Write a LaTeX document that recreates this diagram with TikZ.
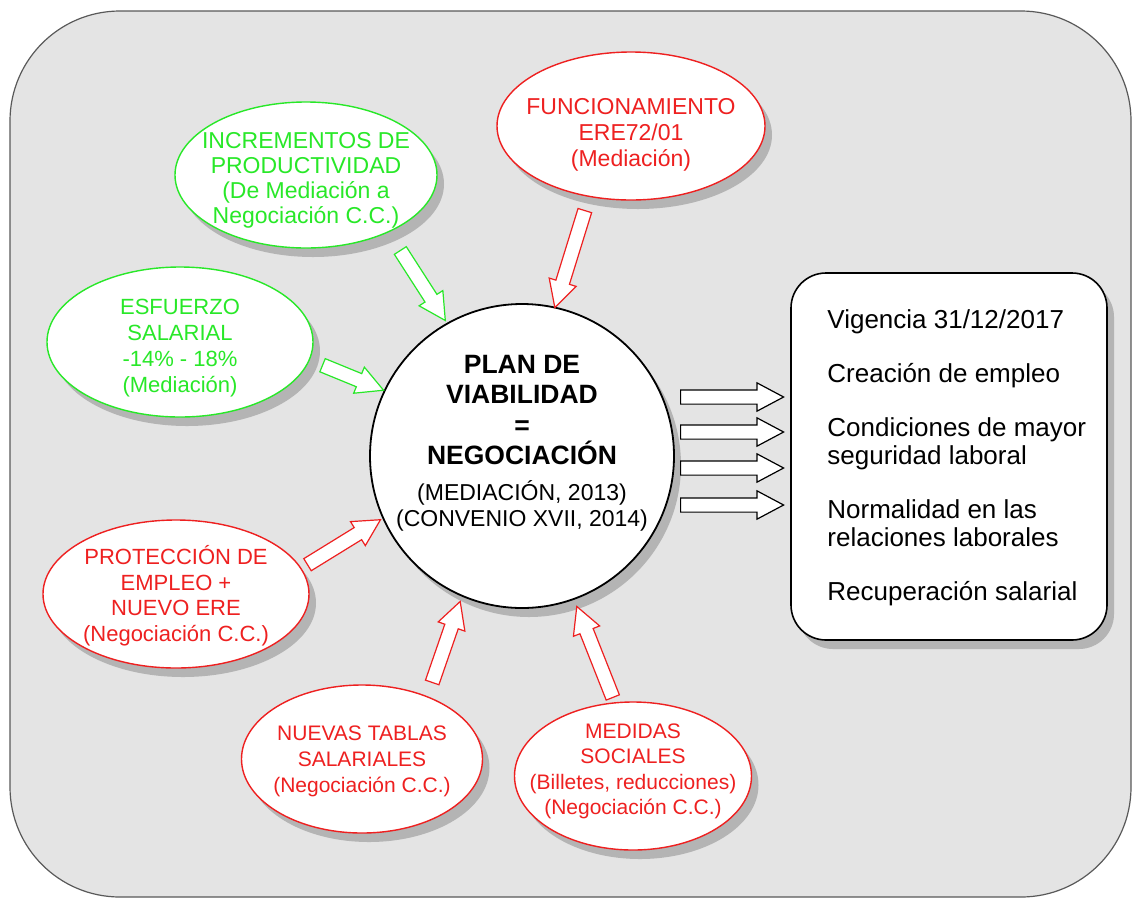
\documentclass[tikz,border=0pt]{standalone}
\usepackage{fontspec}
\setmainfont{Liberation Sans}
\usetikzlibrary{shapes.geometric,shapes.arrows,shadows,calc}
\definecolor{fondo}{RGB}{228,228,228}
\definecolor{sombra}{RGB}{180,180,180}
\definecolor{verde}{RGB}{40,232,40}
\definecolor{rojo}{RGB}{238,32,32}
\begin{document}
\begin{tikzpicture}[x=1pt, y=-1pt,
    sombreado/.style={drop shadow={shadow xshift=7pt, shadow yshift=-9pt, fill=sombra, opacity=1}},
    burbuja/.style={ellipse, draw=#1, line width=1.4pt, fill=white, sombreado, inner sep=0pt},
    texto/.style={text=#1, align=center, inner sep=0pt},
    flechabloque/.style={single arrow, draw=#1, line width=1.2pt, fill=white, inner sep=0pt,
        text height=13pt, text depth=0pt, single arrow head extend=7pt, single arrow tip angle=56}]
    \useasboundingbox (0,0) rectangle (1132,898);
    \def\flecha#1#2#3#4{
        \path let \p1 = (#3), \p2 = (#4),
            \n1 = {atan2(\y2-\y1,\x2-\x1)}, \n2 = {veclen(\x2-\x1,\y2-\y1)} in
            node[flechabloque=#1, minimum height=\n2, rotate=\n1, anchor=tail] (#2) at (\p1) {};
    }
    \draw[fill=fondo, draw=black!65, line width=1.2pt, rounded corners=110pt] (10,11) rectangle (1131,897);

    % centro
    \node[circle, draw, line width=1.8pt, fill=white, sombreado, minimum size=304pt, inner sep=0pt,
        label={[texto=black, yshift=12.6pt, font=\fontsize{26.5}{30.5}\selectfont\bfseries]center:{PLAN DE\\VIABILIDAD\\=\\NEGOCIACIÓN\\[5.5pt]{\fontsize{23}{26}\selectfont\mdseries (MEDIACIÓN, 2013)}\\[-4.5pt]{\fontsize{23}{26}\selectfont\mdseries (CONVENIO XVII, 2014)}}}] (plan) at (522,456) {};

    % burbujas
    \node[burbuja=verde, minimum width=262pt, minimum height=146pt,
        label={[texto=verde, yshift=-5pt, font=\fontsize{23}{25}\selectfont]center:{INCREMENTOS DE\\PRODUCTIVIDAD\\(De Mediación a\\Negociación C.C.)}}] (incr) at (306,175) {};
    \node[burbuja=rojo, minimum width=268pt, minimum height=148pt,
        label={[texto=rojo, yshift=-9pt, font=\fontsize{23}{26}\selectfont]center:{FUNCIONAMIENTO\\ERE72/01\\(Mediación)}}] (func) at (631,126) {};
    \node[burbuja=verde, minimum width=266pt, minimum height=150pt,
        label={[texto=verde, yshift=-6pt, font=\fontsize{22}{26}\selectfont]center:{ESFUERZO\\SALARIAL\\-14\% - 18\%\\(Mediación)}}] (esf) at (180,342) {};
    \node[burbuja=rojo, minimum width=266pt, minimum height=148pt,
        label={[texto=rojo, yshift=-1.5pt, font=\fontsize{22}{25.5}\selectfont]center:{PROTECCIÓN DE\\EMPLEO +\\NUEVO ERE\\(Negociación C.C.)}}] (prot) at (176,594) {};
    \node[burbuja=rojo, minimum width=241pt, minimum height=148pt,
        label={[texto=rojo, yshift=-2.7pt, font=\fontsize{21}{26}\selectfont]center:{NUEVAS TABLAS\\SALARIALES\\(Negociación C.C.)}}] (tablas) at (362,759) {};
    \node[burbuja=rojo, minimum width=237pt, minimum height=148pt,
        label={[texto=rojo, yshift=4.8pt, font=\fontsize{21}{25.5}\selectfont]center:{MEDIDAS\\SOCIALES\\(Billetes, reducciones)\\(Negociación C.C.)}}] (medidas) at (633,776) {};

    % resultados
    \node[draw, line width=1.6pt, fill=white, rounded corners=35pt, sombreado,
        minimum width=316pt, minimum height=367pt] (caja) at (949,456.5) {};
    \node[anchor=west, align=left, inner sep=0pt, font=\fontsize{26}{28}\selectfont] (logros)
        at ($(caja.west)+(37,1)$) {Vigencia 31/12/2017\\[26pt]Creación de empleo\\[26pt]Condiciones de mayor\\seguridad laboral\\[26pt]Normalidad en las\\relaciones laborales\\[26pt]Recuperación salarial};

    % flechas
    \coordinate (c-incr) at (400,250);   \coordinate (p-incr) at (445,320);
    \coordinate (c-func) at (585,210);   \coordinate (p-func) at (555,307);
    \coordinate (c-esf) at (322,365);    \coordinate (p-esf) at (383,390);
    \coordinate (c-prot) at (307,565);   \coordinate (p-prot) at (380,520);
    \coordinate (c-tablas) at (432,683); \coordinate (p-tablas) at (460,602);
    \coordinate (c-medidas) at (613,698); \coordinate (p-medidas) at (577,607);
    \flecha{verde}{f-incr}{c-incr}{p-incr}
    \flecha{rojo}{f-func}{c-func}{p-func}
    \flecha{verde}{f-esf}{c-esf}{p-esf}
    \flecha{rojo}{f-prot}{c-prot}{p-prot}
    \flecha{rojo}{f-tablas}{c-tablas}{p-tablas}
    \flecha{rojo}{f-medidas}{c-medidas}{p-medidas}
    \foreach \y [count=\i] in {397,432,468,505} {
        \coordinate (c-sal\i) at (680,\y);
        \coordinate (p-sal\i) at (783,\y);
        \flecha{black}{f-sal\i}{c-sal\i}{p-sal\i}
    }
\end{tikzpicture}
\end{document}
